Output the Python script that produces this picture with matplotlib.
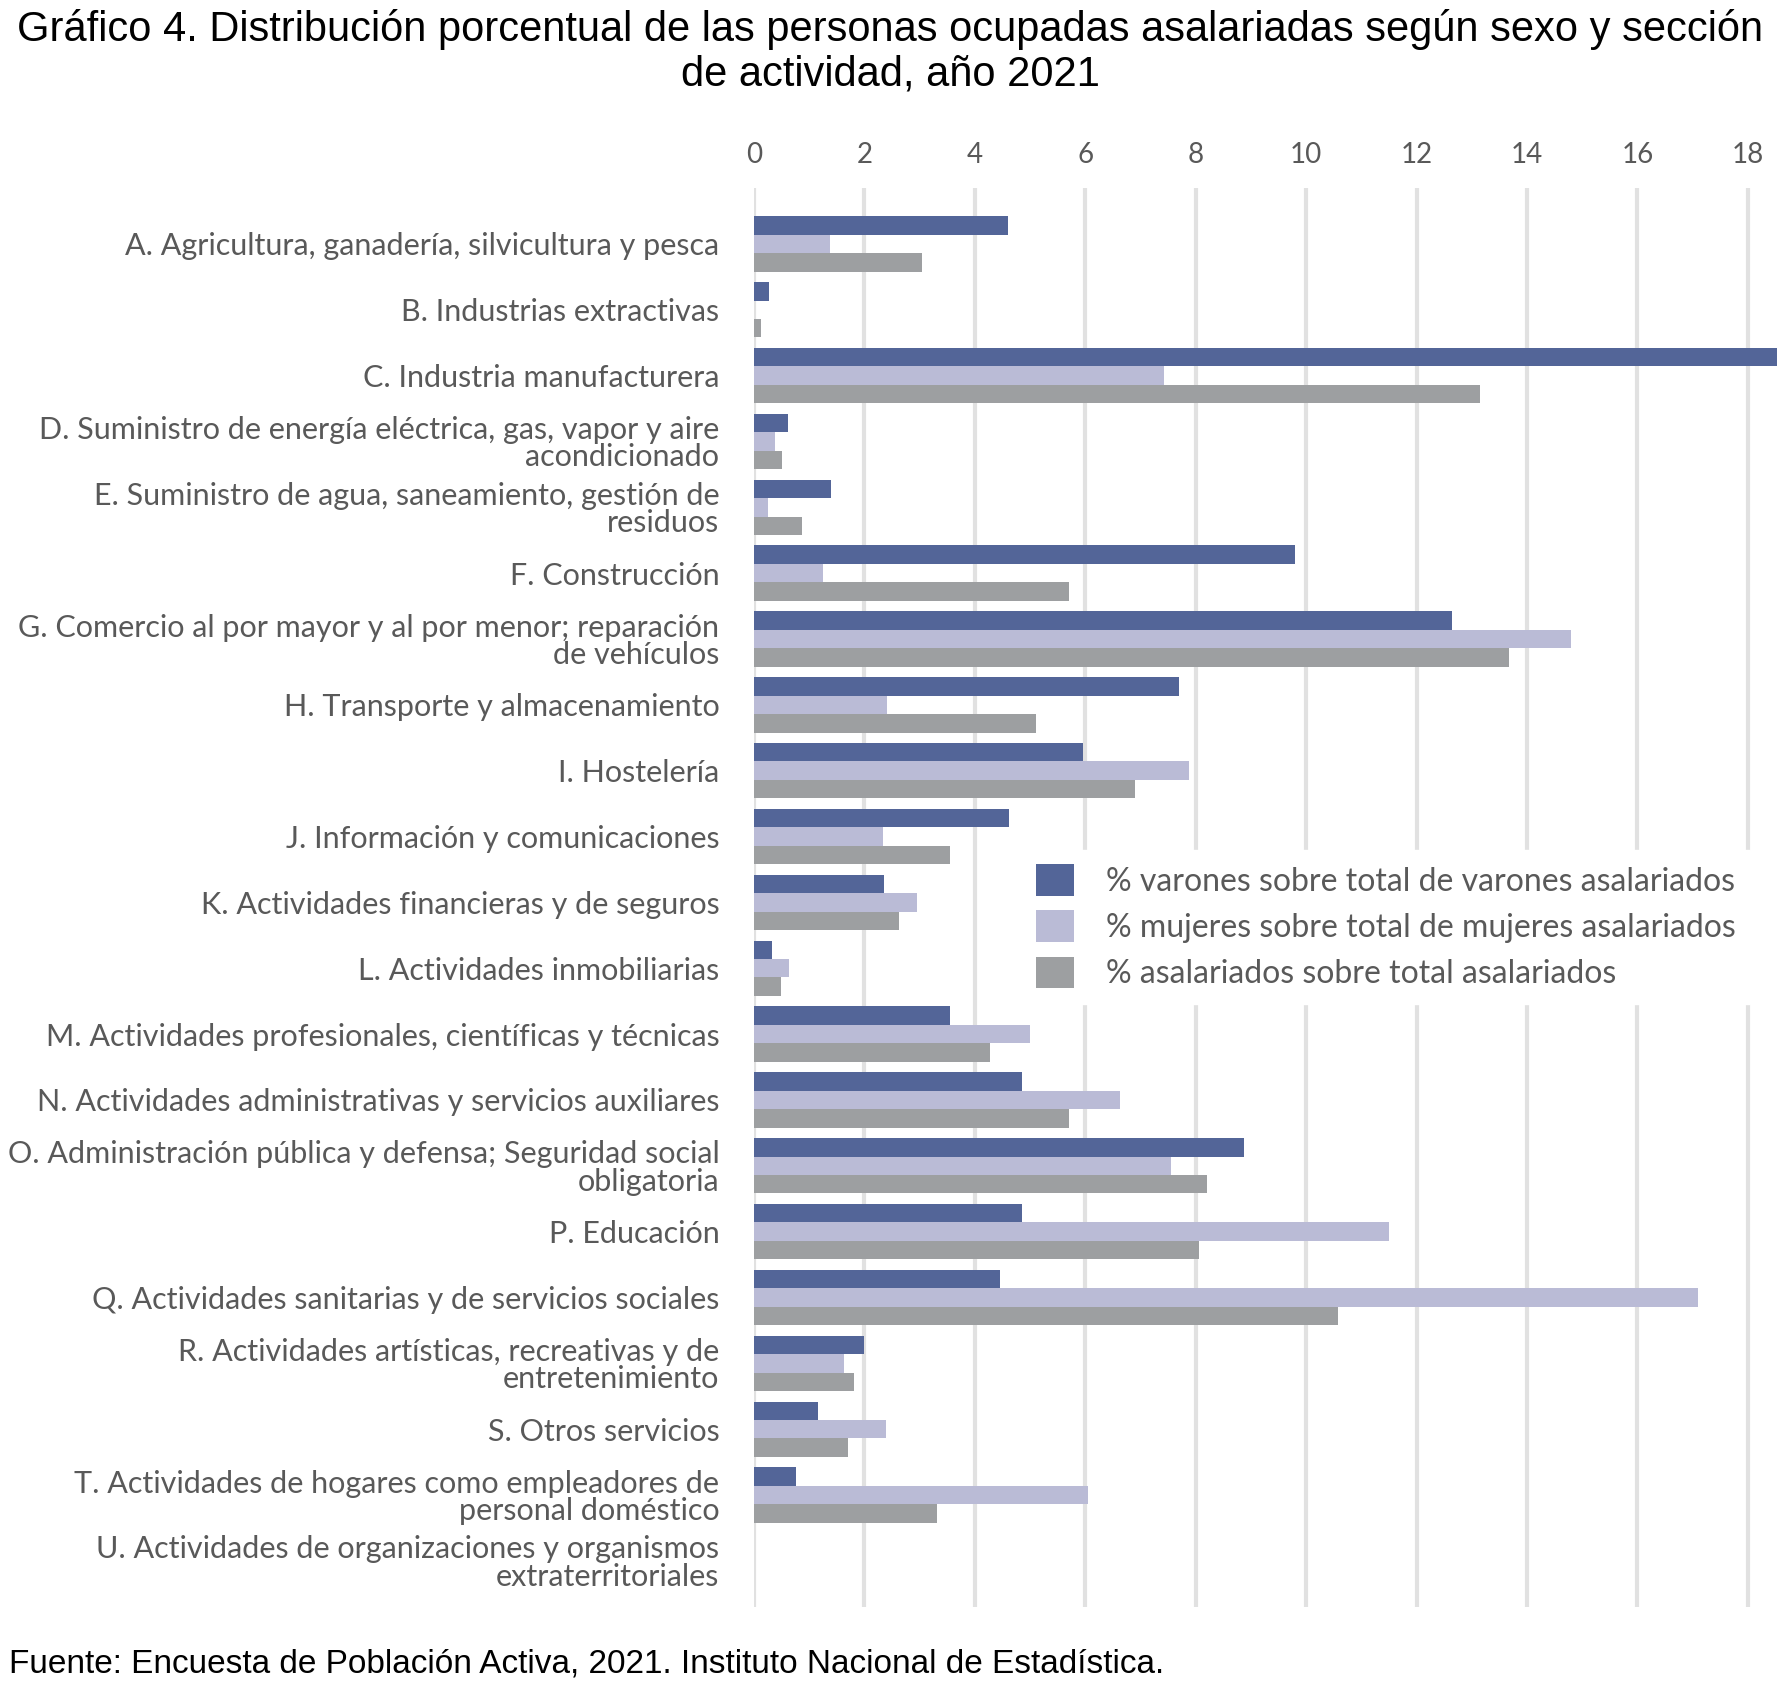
import numpy as np
import matplotlib
matplotlib.use("Agg")
import matplotlib.pyplot as plt

# categories (sección de actividad)
categories = [
    "A. Agricultura, ganadería, silvicultura y pesca",
    "B. Industrias extractivas",
    "C. Industria manufacturera",
    "D. Suministro de energía eléctrica, gas, vapor y aire\nacondicionado",
    "E. Suministro de agua, saneamiento, gestión de\nresiduos",
    "F. Construcción",
    "G. Comercio al por mayor y al por menor; reparación\nde vehículos",
    "H. Transporte y almacenamiento",
    "I. Hostelería",
    "J. Información y comunicaciones",
    "K. Actividades financieras y de seguros",
    "L. Actividades inmobiliarias",
    "M. Actividades profesionales, científicas y técnicas",
    "N. Actividades administrativas y servicios auxiliares",
    "O. Administración pública y defensa; Seguridad social\nobligatoria",
    "P. Educación",
    "Q. Actividades sanitarias y de servicios sociales",
    "R. Actividades artísticas, recreativas y de\nentretenimiento",
    "S. Otros servicios",
    "T. Actividades de hogares como empleadores de\npersonal doméstico",
    "U. Actividades de organizaciones y organismos\nextraterritoriales",
]

varones = [4.6, 0.27, 18.53, 0.62, 1.40, 9.8, 12.65, 7.7, 5.95, 4.62, 2.36, 0.33, 3.55,
           4.85, 8.88, 4.86, 4.46, 1.99, 1.16, 0.76, 0.0]
mujeres = [1.37, 0.0, 7.42, 0.37, 0.25, 1.24, 14.8, 2.4, 7.88, 2.34, 2.96, 0.64, 5.0,
           6.62, 7.55, 11.5, 17.1, 1.63, 2.39, 6.05, 0.0]
total = [3.05, 0.12, 13.15, 0.5, 0.87, 5.7, 13.68, 5.1, 6.9, 3.55, 2.62, 0.48, 4.28,
         5.7, 8.2, 8.05, 10.58, 1.81, 1.71, 3.31, 0.0]

series_labels = [
    "% varones sobre total de varones asalariados",
    "% mujeres sobre total de mujeres asalariados",
    "% asalariados sobre total asalariados",
]
xticks = [0, 2, 4, 6, 8, 10, 12, 14, 16, 18]

colors = ["#536598", "#babbd6", "#9d9fa1"]
label_color = "#595959"

fig = plt.figure(figsize=(17.81, 17.07), dpi=100)
ax = fig.add_axes([0.4234, 0.0586, 0.5766, 0.8313])

y = np.arange(len(categories))
h = 0.28
for i, (vals, col, lab) in enumerate(zip([varones, mujeres, total], colors, series_labels)):
    ax.barh(y + (i - 1) * h, vals, height=h, color=col, label=lab, zorder=3)

ax.set_ylim(20.7, -0.85)
ax.set_xlim(0, 18.6)
ax.set_yticks(y)
ax.set_yticklabels(categories, fontsize=22, color=label_color, family="Lato",
                   linespacing=0.98)
ax.set_xticks(xticks)
ax.set_xticklabels([str(t) for t in xticks], fontsize=20, color=label_color, family="Lato")
ax.xaxis.tick_top()
ax.tick_params(axis="x", length=0, pad=14)
ax.tick_params(axis="y", length=0, pad=25)
ax.grid(axis="x", color="#e1e1e1", linewidth=3, zorder=0)
for s in ax.spines.values():
    s.set_visible(False)

leg = ax.legend(loc="upper left", bbox_to_anchor=(0.245, 0.545), frameon=True,
                fancybox=False, framealpha=1, edgecolor="white", facecolor="white",
                prop={"family": "Lato", "size": 23}, handlelength=1.2, handleheight=1.15,
                handletextpad=1.0, labelspacing=0.43, borderpad=0.45)
for t in leg.get_texts():
    t.set_color(label_color)

fig.text(0.5, 0.995, "Gráfico 4. Distribución porcentual de las personas ocupadas asalariadas según sexo y sección\nde actividad, año 2021",
         ha="center", va="top", fontsize=30, family="Liberation Sans", linespacing=1.15)
fig.text(0.005, 0.025, "Fuente: Encuesta de Población Activa, 2021. Instituto Nacional de Estadística.",
         ha="left", va="center", fontsize=24, family="Liberation Sans")

fig.savefig("out.png", dpi=100)
